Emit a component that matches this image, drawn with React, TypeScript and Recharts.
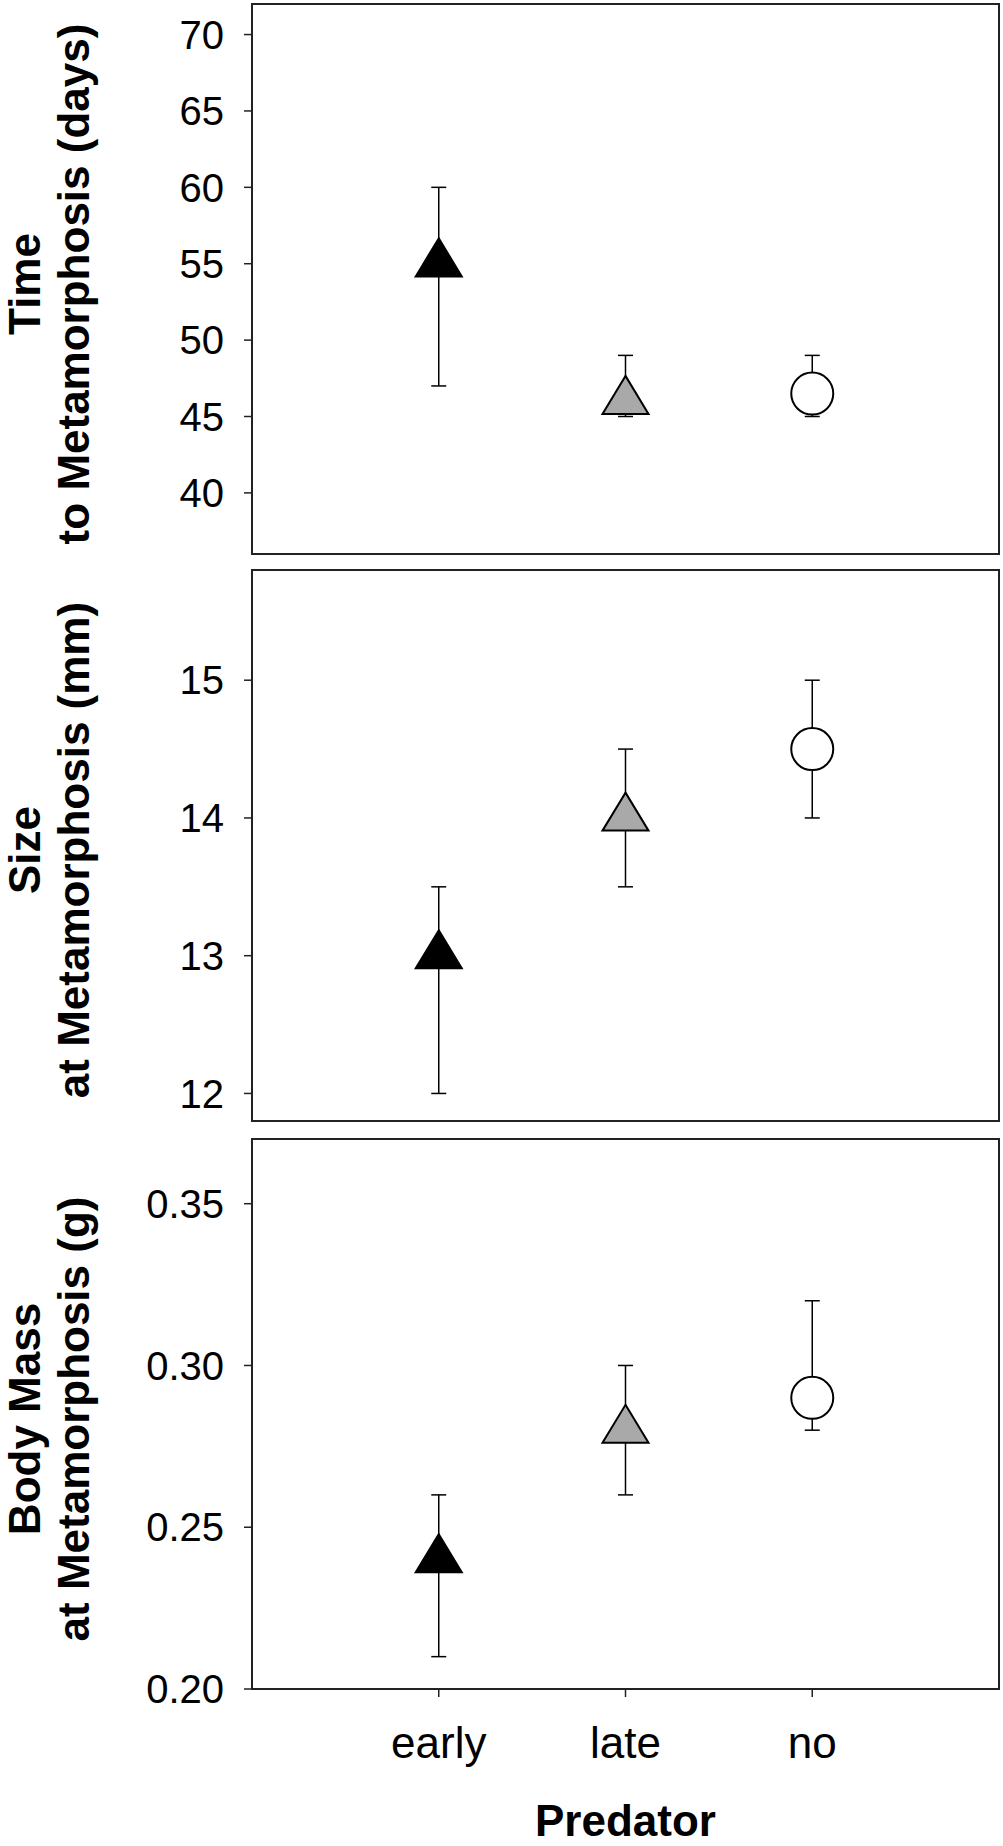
import React from "react";
import {
  ScatterChart,
  Scatter,
  XAxis,
  YAxis,
  ErrorBar,
  ReferenceArea,
} from "recharts";

const predators = ["early", "late", "no"];

// time to metamorphosis (days)
const timeMean = [55, 46, 46.5];
const timeLow = [47, 45, 45];
const timeHigh = [60, 49, 49];
const timeTicks = [40, 45, 50, 55, 60, 65, 70];

// size at metamorphosis (mm)
const sizeMean = [13, 14, 14.5];
const sizeLow = [12, 13.5, 14];
const sizeHigh = [13.5, 14.5, 15];
const sizeTicks = [12, 13, 14, 15];

// body mass at metamorphosis (g)
const massMean = [0.24, 0.28, 0.29];
const massLow = [0.21, 0.26, 0.28];
const massHigh = [0.26, 0.3, 0.32];
const massTicks = [0.2, 0.25, 0.3, 0.35];

const markerFill = ["#000000", "#a9a9a9", "#ffffff"];

const FONT = "'Liberation Sans', Arial, Helvetica, sans-serif";
const AXIS = "#222";

const Marker = (props: any) => {
  const { cx, cy, payload } = props;
  if (cx == null || cy == null) return null;
  if (payload.i === 2) {
    return <circle cx={cx} cy={cy} r={21} fill="#fff" stroke="#000" strokeWidth={2} />;
  }
  const w = 46;
  const h = 38;
  const pts = `${cx},${cy - (h * 2) / 3} ${cx + w / 2},${cy + h / 3} ${cx - w / 2},${cy + h / 3}`;
  return <polygon points={pts} fill={markerFill[payload.i]} stroke="#000" strokeWidth={2} />;
};

interface PanelProps {
  mean: number[];
  low: number[];
  high: number[];
  domain: [number, number];
  ticks: number[];
  fmt: (v: number) => string;
  top: number;
  height: number;
  marginTop: number;
  xHeight: number;
  bottomPanel?: boolean;
}

function Panel({ mean, low, high, domain, ticks, fmt, top, height, marginTop, xHeight, bottomPanel }: PanelProps) {
  const data = predators.map((p, i) => ({
    x: i + 1,
    y: mean[i],
    err: [mean[i] - low[i], high[i] - mean[i]],
    i,
  }));

  return (
    <div style={{ position: "absolute", left: 0, top }}>
      <ScatterChart width={1003} height={height} margin={{ top: marginTop, right: 4, bottom: 0, left: 0 }}>
        <XAxis
          type="number"
          dataKey="x"
          domain={[0, 4]}
          ticks={[1, 2, 3]}
          allowDataOverflow
          height={xHeight}
          tickSize={8}
          tickMargin={30}
          tickFormatter={(v: number) => predators[v - 1]}
          tick={bottomPanel ? { fontSize: 44, fill: "#000", fontFamily: FONT } : false}
          axisLine={{ stroke: AXIS, strokeWidth: 2 }}
          tickLine={{ stroke: AXIS, strokeWidth: 1.5 }}
          label={
            bottomPanel
              ? {
                  value: "Predator",
                  position: "insideBottom",
                  offset: 10,
                  style: { fontSize: 44, fontWeight: "bold", fill: "#000", fontFamily: FONT },
                }
              : undefined
          }
        />
        <YAxis
          type="number"
          dataKey="y"
          domain={domain}
          ticks={ticks}
          allowDataOverflow
          width={252}
          tickSize={8}
          tickMargin={20}
          tickFormatter={fmt}
          tick={{ fontSize: 40, fill: "#000", fontFamily: FONT }}
          axisLine={{ stroke: AXIS, strokeWidth: 2 }}
          tickLine={{ stroke: AXIS, strokeWidth: 1.5 }}
        />
        <ReferenceArea
          x1={0}
          x2={4}
          y1={domain[0]}
          y2={domain[1]}
          fill="none"
          stroke={AXIS}
          strokeWidth={2}
          ifOverflow="visible"
        />
        <Scatter data={data} dataKey="y" shape={Marker} isAnimationActive={false}>
          <ErrorBar dataKey="err" direction="y" width={7.5} stroke="#000" strokeWidth={1.5} />
        </Scatter>
      </ScatterChart>
    </div>
  );
}

const titles = [
  { lines: ["Time", "to Metamorphosis (days)"], cy: 284 },
  { lines: ["Size", "at Metamorphosis (mm)"], cy: 850 },
  { lines: ["Body Mass", "at Metamorphosis (g)"], cy: 1419 },
];

export default function App() {
  return (
    <div
      style={{
        position: "absolute",
        left: 0,
        top: 0,
        width: 1003,
        height: 1846,
        background: "#fff",
        fontFamily: FONT,
        overflow: "hidden",
      }}
    >
      <Panel
        mean={timeMean}
        low={timeLow}
        high={timeHigh}
        domain={[36, 72]}
        ticks={timeTicks}
        fmt={(v) => String(v)}
        top={0}
        height={564}
        marginTop={4}
        xHeight={10}
      />
      <Panel
        mean={sizeMean}
        low={sizeLow}
        high={sizeHigh}
        domain={[11.8, 15.8]}
        ticks={sizeTicks}
        fmt={(v) => String(v)}
        top={560}
        height={571}
        marginTop={10}
        xHeight={10}
      />
      <Panel
        mean={massMean}
        low={massLow}
        high={massHigh}
        domain={[0.2, 0.37]}
        ticks={massTicks}
        fmt={(v) => v.toFixed(2)}
        top={1129}
        height={717}
        marginTop={10}
        xHeight={157}
        bottomPanel
      />
      <svg width={1003} height={1846} style={{ position: "absolute", left: 0, top: 0, pointerEvents: "none" }}>
        {titles.map((t) =>
          t.lines.map((line, k) => {
            const x = k === 0 ? 40 : 89;
            return (
              <text
                key={line}
                x={x}
                y={t.cy}
                transform={`rotate(-90, ${x}, ${t.cy})`}
                textAnchor="middle"
                fontSize={44}
                fontWeight="bold"
                fontFamily={FONT}
                fill="#000"
              >
                {line}
              </text>
            );
          })
        )}
      </svg>
    </div>
  );
}
